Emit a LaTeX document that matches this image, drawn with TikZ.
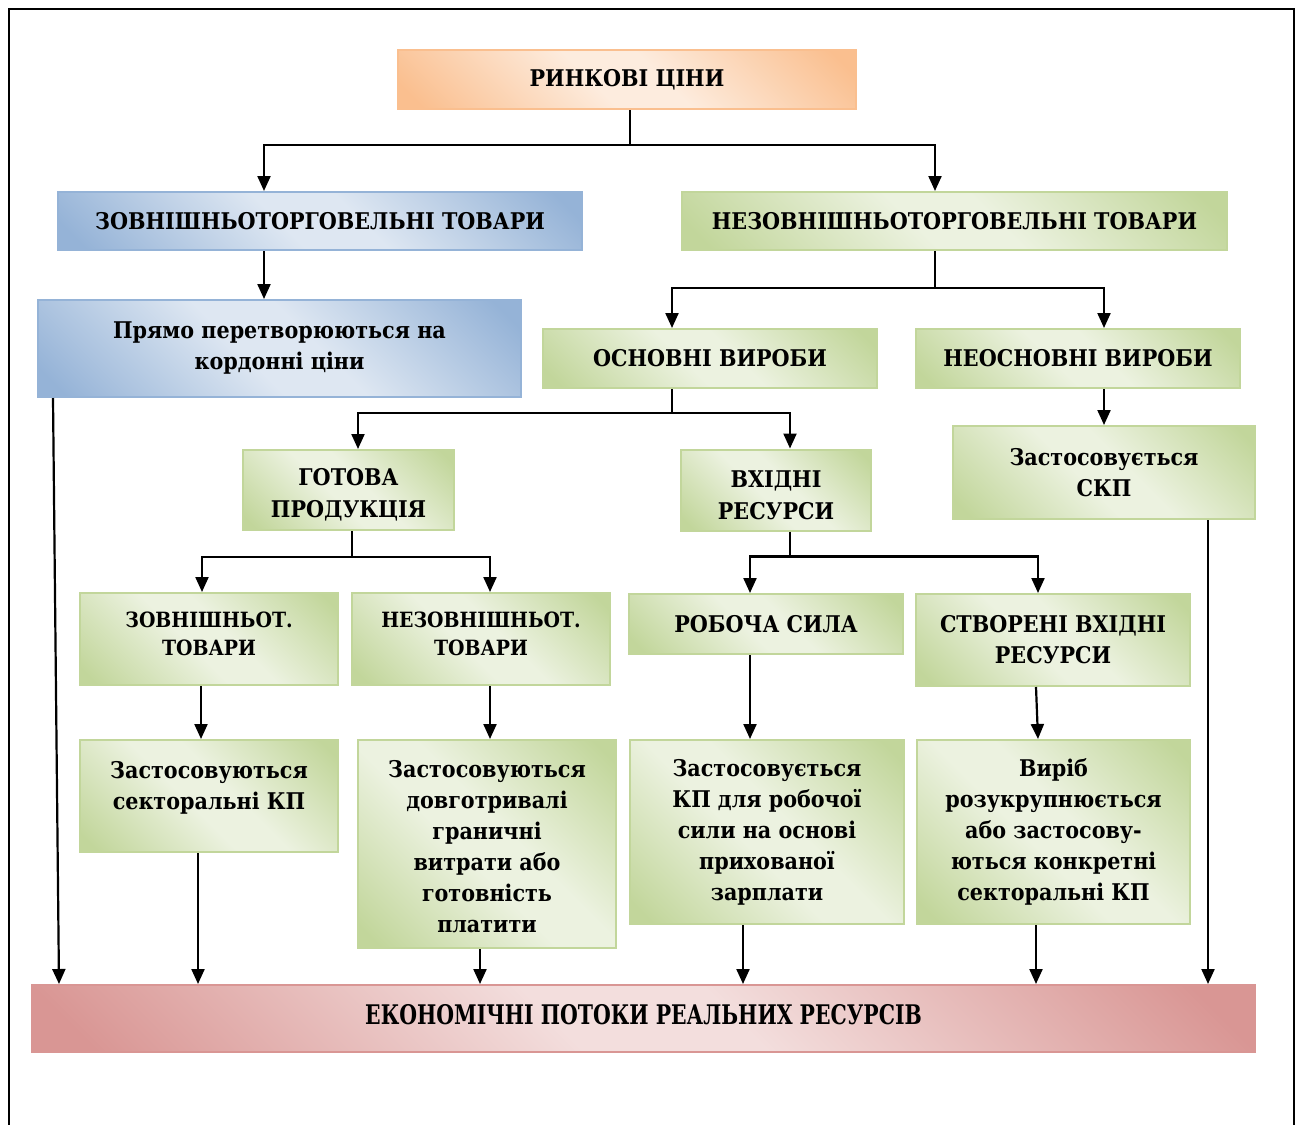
\documentclass[tikz,border=0pt]{standalone}
\usepackage{fontspec}
\setmainfont{DejaVu Serif Condensed}
\usepackage{tikz}
\usetikzlibrary{arrows.meta,positioning}
\definecolor{orDark}{RGB}{250,191,143}
\definecolor{orLight}{RGB}{253,236,222}
\definecolor{blDark}{RGB}{149,179,215}
\definecolor{blLight}{RGB}{222,231,242}
\definecolor{grDark}{RGB}{194,214,155}
\definecolor{grLight}{RGB}{236,242,224}
\definecolor{rdDark}{RGB}{217,150,148}
\definecolor{rdLight}{RGB}{243,222,221}
\newcommand{\declBoxShade}[3]{\pgfdeclareverticalshading{#1}{100bp}{color(0bp)=(#2); color(18bp)=(#2); color(45bp)=(#3); color(55bp)=(#3); color(82bp)=(#2); color(100bp)=(#2)}}
\declBoxShade{orShade}{orDark}{orLight}
\declBoxShade{blShade}{blDark}{blLight}
\declBoxShade{grShade}{grDark}{grLight}
\declBoxShade{rdShade}{rdDark}{rdLight}
\tikzstyle{recNode} = [rectangle, inner sep=0pt, align=center, text=black, line width=2pt, shading angle=-45, font=\bfseries\fontsize{23}{31}\selectfont]
\tikzstyle{recNodeO} = [recNode, draw=orDark, shading=orShade]
\tikzstyle{recNodeB} = [recNode, draw=blDark, shading=blShade]
\tikzstyle{recNodeG} = [recNode, draw=grDark, shading=grShade]
\tikzstyle{recNodeR} = [recNode, draw=rdDark, shading=rdShade]
\tikzstyle{line} = [line width=2.2pt, draw=black]
\tikzstyle{arrow} = [line width=2.2pt, ->, >={Triangle[length=15pt,width=13pt]}, draw=black]

\begin{document}
\begin{tikzpicture}[x=1pt, y=-1pt, node distance=130pt]
    \useasboundingbox (0,0) rectangle (1300,1124);
    \draw [line width=1.5pt] (9,1140) -- (9,9) -- (1294,9) -- (1294,1140);

    % top levels
    \node (market) [recNodeO, minimum width=458pt, minimum height=59pt] at (627,79.5) {РИНКОВІ ЦІНИ};
    \node (foreign) [recNodeB, minimum width=524pt, minimum height=58pt, below of=market, xshift=-307pt, yshift=-11.5pt] {ЗОВНІШНЬОТОРГОВЕЛЬНІ ТОВАРИ};
    \node (nonforeign) [recNodeG, minimum width=545pt, minimum height=58pt, below of=market, xshift=327.5pt, yshift=-11.5pt] {НЕЗОВНІШНЬОТОРГОВЕЛЬНІ ТОВАРИ};
    \node (border) [recNodeB, minimum width=483pt, minimum height=97pt, below of=foreign, xshift=-40.5pt, yshift=2.5pt] {Прямо перетворюються на\\кордонні ціни};
    \node (basic) [recNodeG, minimum width=334pt, minimum height=59pt, below of=nonforeign, xshift=-244.5pt, yshift=-7.5pt] {ОСНОВНІ ВИРОБИ};
    \node (nonbasic) [recNodeG, minimum width=324pt, minimum height=59pt, right of=basic, xshift=238pt] {НЕОСНОВНІ ВИРОБИ};

    % middle levels
    \node (final) [recNodeG, minimum width=211pt, minimum height=80pt, below of=basic, xshift=-361.5pt, yshift=-1.5pt] {\mbox{}\\[-4pt]ГОТОВА\\[1pt]ПРОДУКЦІЯ};
    \node (inputs) [recNodeG, minimum width=190pt, minimum height=81pt, right of=final, xshift=297.5pt] {\mbox{}\\[-4pt]ВХІДНІ\\[1pt]РЕСУРСИ};
    \node (scp) [recNodeG, minimum width=302pt, minimum height=93pt, below of=nonbasic, xshift=26pt, yshift=16pt] {Застосовується\\СКП};
    \node (extgoods) [recNodeG, minimum width=258pt, minimum height=92pt, below of=final, xshift=-139.5pt, yshift=-19pt, font=\bfseries\fontsize{21}{28}\selectfont] {ЗОВНІШНЬОТ.\\ТОВАРИ\\[-18pt]\mbox{}};
    \node (intgoods) [recNodeG, minimum width=258pt, minimum height=92pt, right of=extgoods, xshift=142pt, font=\bfseries\fontsize{21}{28}\selectfont] {НЕЗОВНІШНЬОТ.\\ТОВАРИ\\[-18pt]\mbox{}};
    \node (labour) [recNodeG, minimum width=274pt, minimum height=60pt, below of=inputs, xshift=-10pt, yshift=-4pt] {РОБОЧА СИЛА};
    \node (created) [recNodeG, minimum width=274pt, minimum height=92pt, right of=labour, xshift=157pt, yshift=-16pt] {СТВОРЕНІ ВХІДНІ\\РЕСУРСИ};

    % rules
    \node (sectoral) [recNodeG, minimum width=258pt, minimum height=112pt, below of=extgoods, yshift=-27pt] {Застосовуються\\секторальні КП\\[-9pt]\mbox{}};
    \node (lrmc) [recNodeG, minimum width=258pt, minimum height=208pt, below of=intgoods, xshift=6pt, yshift=-75pt] {\mbox{}\\[-9pt]Застосовуються\\довготривалі\\граничні\\витрати або\\готовність\\платити};
    \node (wage) [recNodeG, minimum width=274pt, minimum height=184pt, below of=labour, xshift=1pt, yshift=-78pt] {Застосовується\\КП для робочої\\сили на основі\\прихованої\\зарплати};
    \node (unbundle) [recNodeG, minimum width=273pt, minimum height=184pt, below of=created, xshift=0.5pt, yshift=-62pt] {Виріб\\розукрупнюється\\або застосову-\\ються конкретні\\секторальні КП};
    \node (flows) [recNodeR, minimum width=1223pt, minimum height=67pt] at (643.5,1018.5) {\fontsize{27}{31}\selectfont\raisebox{8pt}{\scalebox{0.84}[1]{ЕКОНОМІЧНІ ПОТОКИ РЕАЛЬНИХ РЕСУРСІВ}}};

    % tree
    \draw [line] ([xshift=3pt]market.south) -- ++(0,-35pt) coordinate (t1);
    \draw [arrow] (t1) -| ([xshift=-56pt]foreign.north);
    \draw [arrow] (t1) -| ([xshift=-19.5pt]nonforeign.north);
    \draw [arrow] ([xshift=-56pt]foreign.south) -- ([xshift=-15.5pt]border.north);
    \draw [line] ([xshift=-19.5pt]nonforeign.south) -- ++(0,-37pt) coordinate (t2);
    \draw [arrow] (t2) -| ([xshift=-38pt]basic.north);
    \draw [arrow] (t2) -| ([xshift=26pt]nonbasic.north);
    \draw [line] ([xshift=-38pt]basic.south) -- ++(0,-24pt) coordinate (t3);
    \draw [arrow] (t3) -| ([xshift=9.5pt]final.north);
    \draw [arrow] (t3) -| ([xshift=14pt]inputs.north);
    \draw [arrow] ([xshift=26pt]nonbasic.south) -- (scp.north);
    \draw [line] ([xshift=3.5pt]final.south) -- ++(0,-26pt) coordinate (t4);
    \draw [arrow] (t4) -| ([xshift=-7pt]extgoods.north);
    \draw [arrow] (t4) -| ([xshift=9pt]intgoods.north);
    \draw [line] ([xshift=14pt]inputs.south) -- ++(0,-25pt) coordinate (t5);
    \draw [arrow] (t5) -| ([xshift=-16pt]labour.north);
    \draw [arrow] (t5) -| ([xshift=-15pt]created.north);
    \draw [arrow] ([xshift=-8pt]extgoods.south) -- ([xshift=-8pt]sectoral.north);
    \draw [arrow] ([xshift=9pt]intgoods.south) -- ([xshift=3pt]lrmc.north);
    \draw [arrow] ([xshift=-16pt]labour.south) -- ([xshift=-17pt]wage.north);
    \draw [arrow] ([xshift=-17pt]created.south) -- ([xshift=-15.5pt]unbundle.north);

    % into the flows
    \draw [arrow] ([xshift=-226.5pt]border.south) -- ([xshift=-584.5pt]flows.north);
    \draw [arrow] ([xshift=-11pt]sectoral.south) -- ([xshift=-445.5pt]flows.north);
    \draw [arrow] ([xshift=-7pt]lrmc.south) -- ([xshift=-163.5pt]flows.north);
    \draw [arrow] ([xshift=-24pt]wage.south) -- ([xshift=99.5pt]flows.north);
    \draw [arrow] ([xshift=-17.5pt]unbundle.south) -- ([xshift=392.5pt]flows.north);
    \draw [arrow] ([xshift=104pt]scp.south) -- ([xshift=564.5pt]flows.north);
\end{tikzpicture}
\end{document}
